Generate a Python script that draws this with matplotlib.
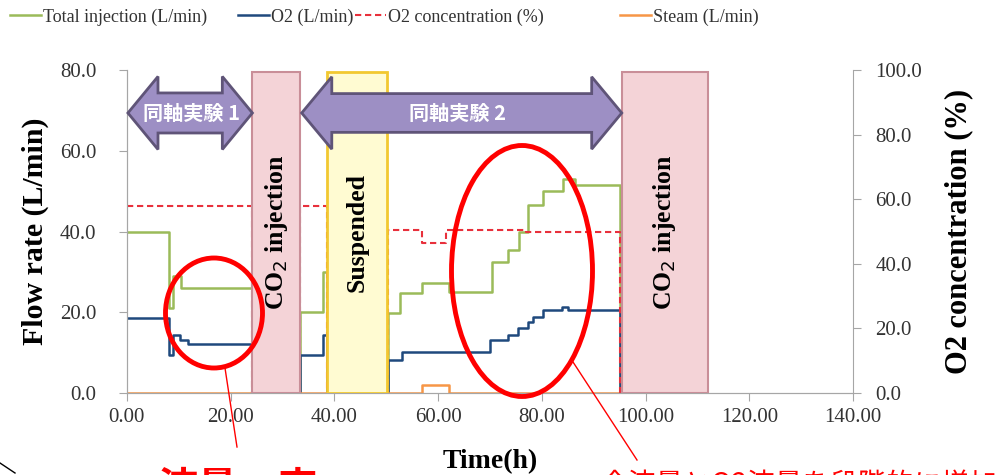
import matplotlib
matplotlib.use('Agg')
import matplotlib.pyplot as plt
from matplotlib.patches import Polygon, Ellipse
from matplotlib.lines import Line2D

# --- data ---
# step series: value holds from each time until the next one
total_t = [0, 8.1, 8.9, 10.5, 24.1, 33.4, 37.8, 38.5, 50.4, 52.6, 56.8, 62.0,
           70.3, 73.5, 75.5, 77.3, 80.3, 84.0, 86.4, 95.1]
total_v = [40.0, 21.0, 29.0, 26.0, 0.0, 20.0, 30.0, 0.0, 19.8, 24.7, 27.2, 25.0,
           32.5, 35.4, 40.0, 46.5, 50.0, 53.0, 51.6, 0.0]

o2_t = [0, 8.1, 8.9, 10.2, 11.8, 24.1, 33.4, 37.8, 38.5, 50.4, 53.0, 70.0,
        73.5, 75.4, 77.3, 78.3, 80.2, 83.8, 85.1, 95.1]
o2_v = [18.7, 9.4, 14.4, 13.1, 12.1, 0.0, 9.4, 14.4, 0.0, 8.2, 10.2, 13.1,
        14.4, 16.0, 17.6, 18.9, 20.5, 21.4, 20.5, 0.0]

conc_t = [0, 24.1, 33.4, 38.5, 50.4, 56.8, 61.6, 77.0, 95.1]
conc_v = [58.0, 0.0, 58.0, 0.0, 50.5, 46.5, 50.5, 50.0, 0.0]

steam_t = [0, 56.8, 62.1, 95.1]
steam_v = [0.0, 2.0, 0.0, 0.0]

co2_spans = [(24.1, 33.4), (95.4, 112.0)]
suspend_span = (38.5, 50.1)

x_ticks = [0, 20, 40, 60, 80, 100, 120, 140]
y_ticks = [0, 20, 40, 60, 80]
y2_ticks = [0, 20, 40, 60, 80, 100]

GREEN = '#9bbb59'
BLUE = '#1f497d'
RED = '#e8303c'
ORANGE = '#f79646'
GRAY = '#a6a6a6'
SERIF = 'Liberation Serif'
JP = ['Noto Sans CJK JP', 'DejaVu Sans']

fig = plt.figure(figsize=(9.99, 4.75), dpi=100)
ax = fig.add_axes([0.127, 0.1726, 0.727, 0.68])
ax2 = ax.twinx()

l1, = ax.plot(total_t, total_v, drawstyle='steps-post', color=GREEN, lw=1.8,
              label='Total injection (L/min)')
l2, = ax.plot(o2_t, o2_v, drawstyle='steps-post', color=BLUE, lw=1.8,
              label='O2 (L/min)')
l4, = ax.plot(steam_t, steam_v, drawstyle='steps-post', color=ORANGE, lw=1.8,
              label='Steam (L/min)')
l3, = ax2.plot(conc_t, conc_v, drawstyle='steps-post', color=RED, lw=1.5,
               dashes=(3, 1.8), label='O2 concentration (%)')

ax.set_xlim(0, 140)
ax.set_ylim(0, 80)
ax2.set_ylim(0, 100)

ax.set_xticks(x_ticks)
ax.set_xticklabels(['%.2f' % v for v in x_ticks])
ax.set_yticks(y_ticks)
ax.set_yticklabels(['%.1f' % v for v in y_ticks])
ax2.set_yticks(y2_ticks)
ax2.set_yticklabels(['%.1f' % v for v in y2_ticks])

for a in (ax, ax2):
    a.spines['top'].set_visible(False)
    for s in ('left', 'right', 'bottom'):
        a.spines[s].set_color(GRAY)
    a.tick_params(colors=GRAY, labelcolor='#333333', labelsize=15, length=6)
    for lab in a.get_xticklabels() + a.get_yticklabels():
        lab.set_family(SERIF)
ax.spines['right'].set_visible(False)
ax.tick_params(axis='y', pad=16)
ax.tick_params(axis='x', pad=5)
ax2.tick_params(axis='y', pad=10)

ax.set_xlabel('Time(h)', family=SERIF, fontsize=20, fontweight='bold', labelpad=16)
ax.set_ylabel('Flow rate (L/min)', family=SERIF, fontsize=21.5, fontweight='bold', labelpad=8)
ax2.set_ylabel('O2 concentration (%)', family=SERIF, fontsize=22, fontweight='bold',
               labelpad=16, rotation=90)

# --- boxes for CO2 injection / suspended periods ---
for x0, x1 in co2_spans:
    ax2.axvspan(x0, x1, ymin=0, ymax=0.995, facecolor='#f4d3d7', edgecolor='#c98e98',
                lw=1.5, zorder=5)
    ax2.text((x0 + x1) / 2, 0.497, 'CO$_2$ injection', transform=ax2.get_xaxis_transform(),
             rotation=90, ha='center', va='center', family=SERIF, fontsize=18.5,
             fontweight='bold', zorder=6)
ax2.axvspan(suspend_span[0], suspend_span[1], ymin=0, ymax=0.995, facecolor='#fffbd2',
            edgecolor='#f2c830', lw=2, zorder=5)
ax2.text(sum(suspend_span) / 2, 0.497, 'Suspended', transform=ax2.get_xaxis_transform(),
         rotation=90, ha='center', va='center', family=SERIF, fontsize=18.5,
         fontweight='bold', zorder=6)


# --- purple double arrows ---
def double_arrow(x0, x1, head, yc, hh, sh):
    pts = [(x0, yc), (x0 + head, yc + hh), (x0 + head, yc + sh), (x1 - head, yc + sh),
           (x1 - head, yc + hh), (x1, yc), (x1 - head, yc - hh), (x1 - head, yc - sh),
           (x0 + head, yc - sh), (x0 + head, yc - hh)]
    ax2.add_patch(Polygon(pts, closed=True, transform=ax2.get_xaxis_transform(),
                          facecolor='#9d8fc4', edgecolor='#5f5478', lw=2, zorder=7,
                          clip_on=False))


double_arrow(0.2, 24.2, 5.8, 0.867, 0.113, 0.062)
double_arrow(33.7, 95.4, 5.8, 0.867, 0.112, 0.060)
ax2.text(12.4, 0.867, '同軸実験 1', transform=ax2.get_xaxis_transform(), ha='center',
         va='center', color='white', family=JP, fontsize=14.5, fontweight='bold', zorder=8)
ax2.text(63.7, 0.867, '同軸実験 2', transform=ax2.get_xaxis_transform(), ha='center',
         va='center', color='white', family=JP, fontsize=14.5, fontweight='bold', zorder=8)

# --- legend across the top ---
handles = [l1, l2, l3, l4]
legend_x = [10, 238, 355, 620]
for h, lx in zip(handles, legend_x):
    lg = fig.legend(handles=[h], loc='center left', bbox_to_anchor=(lx / 999, 1 - 17 / 475),
                    frameon=False, borderpad=0, borderaxespad=0, handlelength=1.7,
                    handletextpad=0.15, prop={'family': SERIF, 'size': 13})
    for t in lg.get_texts():
        t.set_color('#333333')

# --- red annotation ellipses and pointers ---
fig.add_artist(Ellipse((214 / 999, 1 - 313 / 475), 97 / 999, 110 / 475,
                       transform=fig.transFigure, fill=False, edgecolor='red', lw=3.5))
fig.add_artist(Ellipse((522 / 999, 1 - 271 / 475), 141 / 999, 251 / 475,
                       transform=fig.transFigure, fill=False, edgecolor='red', lw=3.5))
fig.add_artist(Line2D([225 / 999, 237 / 999], [1 - 368 / 475, 1 - 447 / 475],
                      transform=fig.transFigure, color='red', lw=1))
fig.add_artist(Line2D([573 / 999, 637 / 999], [1 - 362 / 475, 1 - 460 / 475],
                      transform=fig.transFigure, color='red', lw=1))
fig.add_artist(Line2D([0, 15 / 999], [1 - 463 / 475, 1 - 473 / 475],
                      transform=fig.transFigure, color='black', lw=1))
fig.text(158 / 999, 1 - 468 / 475, '流量一定', color='red', family=JP, fontsize=29,
         fontweight='bold', va='top', ha='left')
fig.text(601 / 999, 1 - 471 / 475, '全流量とO2流量を段階的に増加', color='red', family=JP,
         fontsize=20, va='top', ha='left')

plt.savefig('out.png', dpi=100)
